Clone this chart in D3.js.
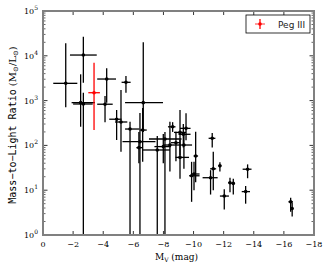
<!DOCTYPE html>
<html>
<head>
<meta charset="utf-8">
<script src="https://cdn.jsdelivr.net/npm/d3@7"></script>
<style>
  body { margin: 0; background: #fff; }
  svg { display: block; }
</style>
</head>
<body>
<div id="chart"></div>
<script>
// absolute magnitude of each system and its error range
const mv = [-1.51, -2.68, -2.50, -2.68, -4.23, -4.12, -5.51, -4.89, -5.18, -5.78,
  -6.66, -6.62, -6.44, -6.37, -7.59, -8.10, -7.99, -8.43, -8.61, -8.83,
  -9.10, -9.32, -9.50, -9.36, -9.10, -10.14, -9.87, -10.03, -11.24, -11.31,
  -11.13, -11.75, -12.04, -12.42, -12.64, -13.59, -13.46, -16.45, -16.55];
const mvLo = [-0.68, -1.79, -1.90, -2.00, -3.60, -3.60, -5.22, -4.40, -4.78, -5.45,
  -5.45, -6.45, -5.28, -6.20, -6.64, -7.04, -7.40, -8.00, -8.30, -8.50,
  -8.70, -9.00, -9.10, -8.90, -8.80, -10.00, -9.70, -9.90, -11.00, -11.10,
  -10.60, -11.65, -11.75, -12.30, -12.50, -13.26, -13.20, -16.30, -16.50];
const mvHi = [-2.28, -3.57, -3.45, -3.30, -4.85, -4.63, -5.82, -5.22, -5.60, -6.40,
  -7.97, -6.89, -7.47, -6.60, -8.43, -9.20, -8.50, -8.90, -8.80, -9.10,
  -9.50, -9.80, -9.80, -9.90, -9.70, -10.30, -10.40, -10.40, -11.45, -11.50,
  -11.60, -11.85, -12.35, -12.50, -12.75, -13.85, -13.75, -16.60, -16.60];
// mass-to-light ratio and its error range
const ml = [2430, 10400, 900, 840, 3030, 830, 2560, 384, 333, 232,
  900, 220, 121, 89, 79, 139, 94, 102, 260, 115,
  195, 177, 240, 102, 54, 58, 21, 23, 144, 30,
  19, 35, 7.4, 14.7, 14.2, 29.4, 9.3, 5.5, 3.9];
const mlLo = [710, 2500, 261, 0.1, 900, 330, 1500, 132, 72, 0.1,
  200, 43, 0.1, 40, 0.1, 0.1, 40, 26, 200, 44,
  60, 90, 130, 30, 18, 15, 5.5, 10, 90, 10,
  8, 26, 3.7, 9, 8, 18.5, 5, 3.3, 2.6];
const mlHi = [19000, 26700, 3860, 1500, 5300, 1260, 3540, 617, 1730, 337,
  20000, 680, 530, 200, 162, 200, 180, 337, 330, 202,
  615, 300, 520, 200, 132, 202, 43, 43, 190, 72,
  28, 42, 10.5, 19, 18, 37.7, 12.4, 6.8, 5.3];

// Peg III
const pegMv = -3.39, pegMvLo = -3.01, pegMvHi = -3.78;
const pegMl = 1500, pegMlLo = 220, pegMlHi = 7000;

const xTicks = [0, -2, -4, -6, -8, -10, -12, -14, -16, -18];
const yTicks = [0, 1, 2, 3, 4, 5];

const margin = { top: 11, right: 15, bottom: 37, left: 43 };
const width = 329 - margin.left - margin.right;
const height = 272 - margin.top - margin.bottom;

const svg = d3.select('#chart')
  .append('svg')
  .attr('width', 329)
  .attr('height', 272);

const container = svg.append('g')
  .attr('transform', `translate(${margin.left},${margin.top})`);

const xScale = d3.scaleLinear().domain([0, -18]).range([0, width]);
const yScale = d3.scaleLog().domain([1, 1e5]).range([height, 0]);

svg.append('defs').append('clipPath').attr('id', 'clip')
  .append('rect').attr('width', width).attr('height', height);

const plot = container.append('g').attr('clip-path', 'url(#clip)');

const data = mv.map((d, i) => ({
  mv: d, mvLo: mvLo[i], mvHi: mvHi[i], ml: ml[i], mlLo: mlLo[i], mlHi: mlHi[i]
}));
const peg = { mv: pegMv, mvLo: pegMvLo, mvHi: pegMvHi, ml: pegMl, mlLo: pegMlLo, mlHi: pegMlHi };

function drawPoints(g, rows, color) {
  const pts = g.selectAll(null).data(rows).enter().append('g');
  pts.append('line')
    .attr('x1', (d) => xScale(d.mvLo)).attr('x2', (d) => xScale(d.mvHi))
    .attr('y1', (d) => yScale(d.ml)).attr('y2', (d) => yScale(d.ml))
    .attr('stroke', color).attr('stroke-width', 1.3);
  pts.append('line')
    .attr('x1', (d) => xScale(d.mv)).attr('x2', (d) => xScale(d.mv))
    .attr('y1', (d) => yScale(Math.max(d.mlLo, 0.1))).attr('y2', (d) => yScale(d.mlHi))
    .attr('stroke', color).attr('stroke-width', 1.3);
  pts.append('circle')
    .attr('cx', (d) => xScale(d.mv)).attr('cy', (d) => yScale(d.ml))
    .attr('r', 1.8).attr('fill', color);
}

drawPoints(plot, data, '#000');
drawPoints(plot, [peg], '#ff0000');

// ticks inside on all four sides
const tickColor = '#000';
xTicks.forEach((t) => {
  const x = xScale(t);
  container.append('line').attr('x1', x).attr('x2', x).attr('y1', height).attr('y2', height - 4)
    .attr('stroke', tickColor).attr('stroke-width', 0.8);
  container.append('line').attr('x1', x).attr('x2', x).attr('y1', 0).attr('y2', 4)
    .attr('stroke', tickColor).attr('stroke-width', 0.8);
  container.append('text').attr('x', x).attr('y', height + 12)
    .attr('text-anchor', 'middle')
    .attr('font-family', 'DejaVu Serif').attr('font-size', 8)
    .text(t === 0 ? '0' : '\u2212' + Math.abs(t));
});

for (let e = 0; e < 5; e++) {
  for (let m = 2; m < 10; m++) {
    const y = yScale(m * Math.pow(10, e));
    [[0, 2.5], [width, width - 2.5]].forEach(([a, b]) => {
      container.append('line').attr('x1', a).attr('x2', b).attr('y1', y).attr('y2', y)
        .attr('stroke', tickColor).attr('stroke-width', 0.6);
    });
  }
}
yTicks.forEach((t) => {
  const y = yScale(Math.pow(10, t));
  [[0, 4.5], [width, width - 4.5]].forEach(([a, b]) => {
    container.append('line').attr('x1', a).attr('x2', b).attr('y1', y).attr('y2', y)
      .attr('stroke', tickColor).attr('stroke-width', 0.8);
  });
  const lbl = container.append('text').attr('x', -5).attr('y', y + 3)
    .attr('text-anchor', 'end')
    .attr('font-family', 'DejaVu Serif').attr('font-size', 8);
  lbl.append('tspan').text('10');
  lbl.append('tspan').attr('dy', -4).attr('font-size', 6).text(t);
});

// frame
container.append('rect')
  .attr('width', width).attr('height', height)
  .attr('fill', 'none').attr('stroke', '#808080').attr('stroke-width', 2);

// axis labels
const xl = svg.append('text')
  .attr('x', margin.left + width / 2 - 2).attr('y', 260)
  .attr('text-anchor', 'middle')
  .attr('font-family', 'DejaVu Serif').attr('font-size', 9);
xl.append('tspan').text('M');
xl.append('tspan').attr('dy', 2).attr('font-size', 6).text('V');
xl.append('tspan').attr('dy', -2).text(' (mag)');

const yl = svg.append('text')
  .attr('transform', `translate(16,${margin.top + height / 2 + 2}) rotate(-90)`)
  .attr('text-anchor', 'middle')
  .attr('font-size', 10);
yl.append('tspan').attr('font-family', 'DejaVu Sans Mono').text('Mass\u2212to\u2212Light Ratio');
yl.append('tspan').attr('font-family', 'DejaVu Serif').text(' (M');
yl.append('tspan').attr('font-family', 'DejaVu Serif').attr('dy', 2).attr('font-size', 7).text('\u2299');
yl.append('tspan').attr('font-family', 'DejaVu Serif').attr('dy', -2).text('/L');
yl.append('tspan').attr('font-family', 'DejaVu Serif').attr('dy', 2).attr('font-size', 7).text('\u2299');
yl.append('tspan').attr('font-family', 'DejaVu Serif').attr('dy', -2).text(')');

// legend
const legend = svg.append('g').attr('transform', 'translate(246,15)');
legend.append('rect').attr('width', 64).attr('height', 18)
  .attr('fill', '#fff').attr('stroke', '#000').attr('stroke-width', 0.8);
legend.append('line').attr('x1', 9).attr('x2', 19).attr('y1', 9).attr('y2', 9)
  .attr('stroke', '#ff0000').attr('stroke-width', 1.3).attr('opacity', 0.6);
legend.append('line').attr('x1', 14).attr('x2', 14).attr('y1', 4).attr('y2', 14)
  .attr('stroke', '#ff0000').attr('stroke-width', 1.3);
legend.append('circle').attr('cx', 14).attr('cy', 9).attr('r', 1.8).attr('fill', '#ff0000');
legend.append('text').attr('x', 32).attr('y', 12.5)
  .attr('font-family', 'DejaVu Sans').attr('font-size', 9).attr('fill', '#222')
  .text('Peg III');
</script>
</body>
</html>
